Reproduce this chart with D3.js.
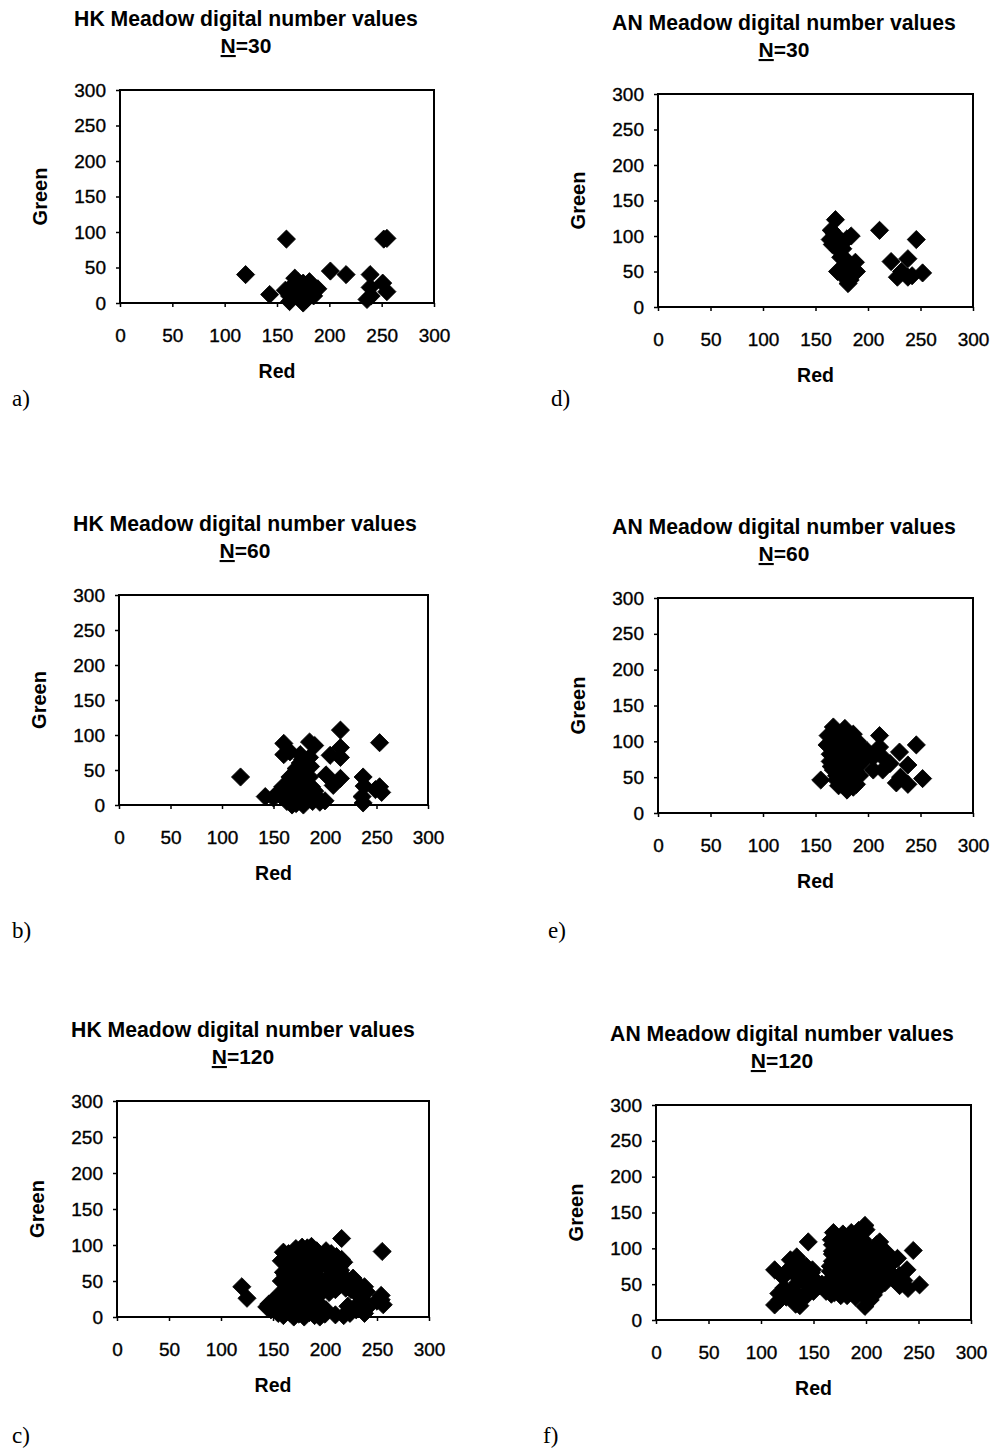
<!DOCTYPE html>
<html>
<head>
<meta charset="utf-8">
<script src="https://cdn.jsdelivr.net/npm/d3@7"></script>
<style>
  html, body { margin: 0; padding: 0; background: #fff; }
  svg { display: block; }
</style>
</head>
<body>
<svg id="chart" width="996" height="1454"></svg>
<script>
// ---------------- DATA ----------------
const tickValues = [0, 50, 100, 150, 200, 250, 300];
const xLabel = "Red";
const yLabel = "Green";
const hkTitle = "HK Meadow digital number values";
const anTitle = "AN Meadow digital number values";
const sampleSizes = ["30", "60", "120"];
const panelLetters = ["a)", "b)", "c)", "d)", "e)", "f)"];

// [Red, Green] pairs
const hk30 = [
  [120,40],[143,12],[159,90],[252,90],[255,91],[201,45],[216,40],[239,40],[239,22],[236,5],
  [240,10],[251,28],[255,16],[158,18],[162,10],[162,2],[165,25],[167,35],[170,20],[172,8],
  [175,0],[175,28],[178,15],[181,30],[183,22],[185,10],[189,20],[168,12],[178,5],[170,30]
];
const hk60 = [
  [118,40],[142,12],[215,107],[253,89],[160,88],[166,76],[185,90],[215,82],[205,71],[215,68],
  [201,43],[215,38],[208,28],[237,40],[238,27],[236,12],[237,3],[253,26],[255,18],[249,22],
  [190,85],[160,72],
  [176,72],[178,65],[181,55],[172,52],[176,60],[166,40],[170,45],[159,26],[154,17],[150,10],
  [176,35],[180,45],[185,40],[187,26],[169,12],[163,5],[176,5],[182,16],[192,12],[195,4],
  [200,6],[179,0],[168,0],[173,22],[186,55],[185,68],[163,30],[170,30],[180,25],[175,15],
  [158,12],[165,18],[188,5],[183,8],[172,2],[190,20],[160,20],[178,48]
];
const hk120 = [
  [120,42],[125,26],[216,109],[255,91],[254,24],[254,30],[256,17],[250,22],[238,42],[240,35],
  [227,54],[232,45],[236,25],[240,12],[238,5],[230,10],[224,5],[222,15],[144,14],[150,22],
  [148,10],
  [160,90],[165,88],[172,95],[178,97],[183,96],[187,98],[192,92],[201,92],[206,88],[211,84],
  [216,80],[158,78],[163,75],[170,80],[176,82],[182,78],[188,74],[193,80],[205,72],[210,75],
  [214,70],[218,76],[160,62],[165,66],[170,60],[176,65],[182,60],[188,66],[192,58],[203,55],
  [210,60],[215,65],[219,55],[158,50],[163,45],[168,52],[174,48],[180,42],[185,50],[190,45],
  [196,48],[202,42],[208,48],[214,44],[220,40],[225,38],[155,30],[160,35],[166,28],[172,38],
  [178,32],[183,26],[188,36],[194,30],[198,38],[204,34],[210,38],[232,30],[146,18],[152,14],
  [157,20],[163,12],[168,22],[174,15],[180,20],[186,12],[191,22],[196,16],[201,10],[226,10],
  [232,18],[155,5],[160,2],[166,6],[170,0],[175,4],[180,0],[185,6],[190,2],[195,0],
  [200,4],[210,3],[218,2],[170,70],[175,55],[180,88],[185,85],[178,45],[172,30],[165,40],
  [190,55],[195,70],[200,82],[206,65],[212,52],[183,38],[177,10],[169,14],[162,58]
];
const an30 = [
  [169,123],[165,108],[168,103],[164,95],[166,88],[170,92],[172,80],[176,82],[184,100],[180,96],
  [174,70],[180,65],[188,63],[178,58],[182,55],[171,50],[176,48],[189,50],[179,40],[183,38],
  [181,33],[211,108],[246,95],[238,68],[222,64],[228,42],[238,42],[252,48],[232,50],[242,44]
];
const an60 = [
  [155,46],[246,95],[211,108],[230,85],[238,67],[252,48],[227,42],[238,40],[231,50],[221,69],
  [211,92],[205,78],[205,60],[199,87],[214,60],[216,75],
  [167,120],[178,118],[186,110],[162,108],[170,110],[181,105],[161,95],[168,98],[175,100],[186,95],
  [193,92],[164,82],[170,85],[178,88],[184,82],[196,85],[190,75],[164,72],[172,75],[180,72],
  [194,70],[167,60],[174,62],[182,64],[188,58],[170,52],[178,55],[186,50],[192,52],[170,46],
  [176,44],[184,42],[189,40],[172,38],[180,32],[186,36],[165,65],[175,68],[182,46],[178,40],
  [168,88],[174,92],[182,90],[190,100]
];
const an120 = [
  [113,70],[145,109],[199,132],[193,125],[245,97],[251,49],[239,70],[230,86],[232,48],[240,44],
  [204,28],[199,19],[207,35],[113,21],[213,109],[219,95],[225,80],[236,55],[222,62],[228,55],
  [128,84],[134,88],[138,78],[121,60],[126,70],[132,64],[117,37],[122,45],[130,42],[135,52],
  [140,55],[145,62],[149,70],[143,75],[146,42],[152,55],[156,48],[118,28],[124,32],[133,22],
  [138,30],[144,35],[150,40],[148,66],[137,20],
  [169,122],[178,120],[167,112],[174,110],[183,115],[168,105],[175,98],[188,102],[194,88],[203,100],
  [210,105],[197,112],[200,126],[168,82],[168,92],[172,70],[181,78],[185,90],[191,70],[200,75],
  [210,70],[219,60],[215,85],[165,55],[170,62],[178,52],[185,60],[191,52],[200,56],[206,62],
  [214,58],[175,40],[181,45],[188,37],[195,42],[162,40],[168,45],[182,34],[176,34],[190,32],
  [205,48],[210,52],[220,75],[166,68],[166,75],[176,85],[183,96],[190,108],[195,95],[208,88],
  [215,72],[224,65],[158,50],[170,38],[185,70],[180,62],[196,60],[172,100],[205,82],[188,80],
  [178,65],[193,48],[168,96],[186,122],[200,40],[212,45],[218,52],[160,45],[170,50],[182,105],
  [198,34],[205,90],[226,58],[232,62],[167,36]
];

// ---------------- LAYOUT ----------------
const panels = [
  { data: hk30,  title: hkTitle, n: sampleSizes[0], letter: panelLetters[0], box: [120, 434, 90, 303],   lx: 12,  ly: 406 },
  { data: hk60,  title: hkTitle, n: sampleSizes[1], letter: panelLetters[1], box: [119, 428, 595, 805],  lx: 12,  ly: 938 },
  { data: hk120, title: hkTitle, n: sampleSizes[2], letter: panelLetters[2], box: [117, 429, 1101, 1317], lx: 12,  ly: 1443 },
  { data: an30,  title: anTitle, n: sampleSizes[0], letter: panelLetters[3], box: [658, 973, 94, 307],   lx: 551, ly: 406 },
  { data: an60,  title: anTitle, n: sampleSizes[1], letter: panelLetters[4], box: [658, 973, 598, 813],  lx: 548, ly: 938 },
  { data: an120, title: anTitle, n: sampleSizes[2], letter: panelLetters[5], box: [656, 971, 1105, 1320], lx: 543, ly: 1443 }
];

const svg = d3.select("#chart");
const FONT = "'Liberation Sans', Arial, Helvetica, sans-serif";
const SERIF = "'Liberation Serif', 'Times New Roman', serif";
const diamond = d3.symbol().type(d3.symbolSquare).size(165);

panels.forEach(p => {
  const [L, R, T, B] = p.box;
  const x = d3.scaleLinear().domain([0, 300]).range([L, R]);
  const y = d3.scaleLinear().domain([0, 300]).range([B, T]);
  const g = svg.append("g");

  // markers
  g.append("g").selectAll("path").data(p.data).join("path")
    .attr("d", diamond)
    .attr("transform", d => `translate(${x(d[0])},${y(d[1])}) rotate(45)`)
    .attr("fill", "#000")
    .attr("stroke", "#000").attr("stroke-width", 0.8).attr("stroke-linejoin", "round");

  // axes
  const ya = g.append("g").attr("transform", `translate(${L},0)`)
    .call(d3.axisLeft(y).tickValues(tickValues).tickSize(4).tickPadding(10).tickFormat(d3.format("d")));
  const xa = g.append("g").attr("transform", `translate(0,${B})`)
    .call(d3.axisBottom(x).tickValues(tickValues).tickSize(4).tickPadding(22).tickFormat(d3.format("d")));
  [ya, xa].forEach(a => {
    a.select(".domain").remove();
    a.selectAll("line").attr("stroke", "#000").attr("stroke-width", 1.5);
    a.selectAll("text").attr("font-family", FONT).attr("font-size", 19).attr("fill", "#000")
      .attr("stroke", "#000").attr("stroke-width", 0.35);
  });

  // frame
  g.append("rect").attr("x", L).attr("y", T).attr("width", R - L).attr("height", B - T)
    .attr("fill", "none").attr("stroke", "#000").attr("stroke-width", 2);

  // titles
  const tx = L + 126;
  g.append("text").attr("x", tx).attr("y", T - 64).attr("text-anchor", "middle")
    .attr("font-family", FONT).attr("font-weight", "bold").attr("font-size", 21.2)
    .text(p.title);
  const nt = g.append("text").attr("x", tx).attr("y", T - 37).attr("text-anchor", "middle")
    .attr("font-family", FONT).attr("font-weight", "bold").attr("font-size", 21);
  nt.append("tspan").attr("text-decoration", "underline").text("N");
  nt.append("tspan").text("=" + p.n);

  // axis labels
  g.append("text").attr("x", (L + R) / 2).attr("y", B + 75).attr("text-anchor", "middle")
    .attr("font-family", FONT).attr("font-weight", "bold").attr("font-size", 19.5)
    .text(xLabel);
  g.append("text").attr("transform", `translate(${L - 80},${(T + B) / 2}) rotate(-90)`)
    .attr("text-anchor", "middle").attr("dy", "0.35em")
    .attr("font-family", FONT).attr("font-weight", "bold").attr("font-size", 20)
    .text(yLabel);

  // panel letter
  g.append("text").attr("x", p.lx).attr("y", p.ly)
    .attr("font-family", SERIF).attr("font-size", 23).text(p.letter);
});
</script>
</body>
</html>
